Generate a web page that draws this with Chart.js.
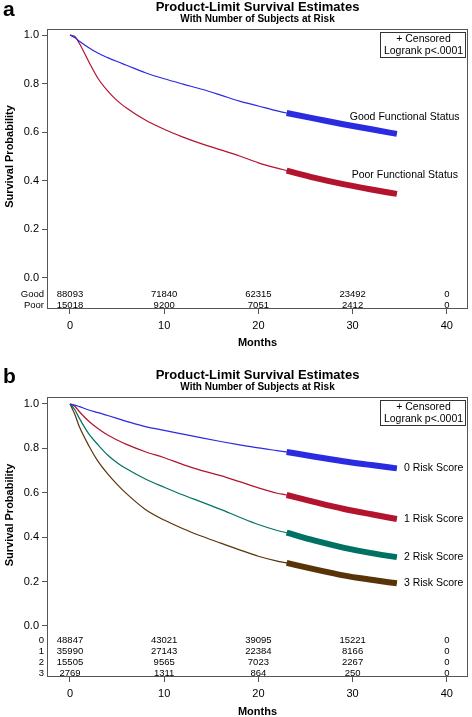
<!DOCTYPE html>
<html>
<head>
<meta charset="utf-8">
<script src="https://cdn.jsdelivr.net/npm/chart.js@4.4.1/dist/chart.umd.min.js"></script>
<style>
    html, body { margin: 0; padding: 0; background: #fff; }
    #wrap { position: relative; width: 472px; height: 717px; }
    canvas { position: absolute; left: 0; }
    #chartA { top: 0; }
    #chartB { top: 360px; }
</style>
</head>
<body>
<div id="wrap">
    <canvas id="chartA" width="472" height="360"></canvas>
    <canvas id="chartB" width="472" height="357"></canvas>
</div>
<script>
/* ---- data ---- */
const months      = [0, 0.5, 1, 2, 3, 4, 5, 6, 8, 10, 12, 14, 16, 18, 20, 22, 23, 26, 29, 32, 34.7];
const censorStart = 23;   // dense censoring (thick band) from here on

// panel a
const goodStatus  = [1, 0.99, 0.975, 0.948, 0.925, 0.907, 0.891, 0.876, 0.845, 0.820, 0.798, 0.777, 0.753, 0.728, 0.708, 0.688, 0.679, 0.656, 0.633, 0.612, 0.593];
const poorStatus  = [1, 0.995, 0.965, 0.89, 0.82, 0.77, 0.73, 0.70, 0.65, 0.612, 0.58, 0.552, 0.527, 0.502, 0.474, 0.452, 0.442, 0.412, 0.386, 0.364, 0.346];

// panel b
const score0 = [1, 0.995, 0.988, 0.973, 0.961, 0.948, 0.935, 0.922, 0.898, 0.881, 0.864, 0.847, 0.831, 0.816, 0.802, 0.790, 0.784, 0.762, 0.742, 0.725, 0.710];
const score1 = [1, 0.99, 0.965, 0.922, 0.888, 0.860, 0.838, 0.818, 0.785, 0.758, 0.727, 0.700, 0.677, 0.650, 0.622, 0.598, 0.590, 0.558, 0.528, 0.503, 0.482];
const score2 = [1, 0.975, 0.935, 0.865, 0.815, 0.77, 0.735, 0.708, 0.662, 0.625, 0.59, 0.558, 0.525, 0.49, 0.457, 0.43, 0.42, 0.384, 0.353, 0.328, 0.31];
const score3 = [1, 0.955, 0.897, 0.812, 0.74, 0.685, 0.638, 0.596, 0.525, 0.477, 0.438, 0.404, 0.373, 0.343, 0.314, 0.292, 0.284, 0.255, 0.228, 0.208, 0.192];

// number at risk
const riskMonths = [0, 10, 20, 30, 40];
const riskGood   = [88093, 71840, 62315, 23492, 0];
const riskPoor   = [15018, 9200, 7051, 2412, 0];
const risk0      = [48847, 43021, 39095, 15221, 0];
const risk1      = [35990, 27143, 22384, 8166, 0];
const risk2      = [15505, 9565, 7023, 2267, 0];
const risk3      = [2769, 1311, 864, 250, 0];

const xTicks = [0, 10, 20, 30, 40];
const yTicks = [0, 0.2, 0.4, 0.6, 0.8, 1.0];

const FONT = '"Liberation Sans", Arial, Helvetica, sans-serif';

/* ---- helpers ---- */
function toPoints(vals) {
    return months.map((m, i) => ({ x: m, y: vals[i] }));
}

function curveSets(label, vals, color) {
    const pts = toPoints(vals);
    return [
        { label: label, data: pts, borderColor: color, borderWidth: 1.2,
          pointRadius: 0, cubicInterpolationMode: 'monotone', fill: false },
        { label: label + ' censored', data: pts.filter(p => p.x >= censorStart),
          borderColor: color, borderWidth: 6, borderCapStyle: 'butt',
          pointRadius: 0, cubicInterpolationMode: 'monotone', fill: false }
    ];
}

// frame, titles, legend box, at-risk table, curve labels
const kmDecor = {
    id: 'kmDecor',
    afterDraw(chart, args, o) {
        const { ctx, chartArea: a, scales: { x, y } } = chart;
        const cx = (a.left + a.right) / 2;
        ctx.save();

        ctx.strokeStyle = '#555';
        ctx.lineWidth = 1;
        ctx.strokeRect(a.left + 0.5, a.top + 0.5, a.right - a.left - 1, a.bottom - a.top - 1);

        ctx.fillStyle = '#000';
        ctx.font = 'bold 21px ' + FONT;
        ctx.textAlign = 'left';
        ctx.textBaseline = 'alphabetic';
        ctx.fillText(o.letter, 3, o.letterY);

        ctx.textAlign = 'center';
        ctx.textBaseline = 'middle';
        ctx.font = 'bold 13px ' + FONT;
        ctx.fillText('Product-Limit Survival Estimates', cx, o.titleY);
        ctx.font = 'bold 10px ' + FONT;
        ctx.fillText('With Number of Subjects at Risk', cx, o.titleY + 12);

        // legend box
        const bw = 85, bh = 25, bx = a.right - 3 - bw, by = a.top + 3;
        ctx.fillStyle = '#fff';
        ctx.fillRect(bx, by, bw, bh);
        ctx.strokeStyle = '#333';
        ctx.strokeRect(bx + 0.5, by + 0.5, bw, bh);
        ctx.fillStyle = '#000';
        ctx.font = '10.5px ' + FONT;
        ctx.fillText('+ Censored', bx + bw / 2 + 1, by + 7);
        ctx.fillText('Logrank p<.0001', bx + bw / 2 + 1, by + 19);

        // number at risk
        const n = o.risk.length;
        ctx.font = '9.5px ' + FONT;
        o.risk.forEach((row, i) => {
            const ry = a.bottom - 4 - 11 * (n - 1 - i);
            ctx.textAlign = 'right';
            ctx.fillText(row.name, a.left - 3, ry);
            ctx.textAlign = 'center';
            row.values.forEach((v, j) => ctx.fillText(String(v), x.getPixelForValue(riskMonths[j]), ry));
        });

        // curve labels
        ctx.font = '10.5px ' + FONT;
        ctx.textAlign = 'left';
        o.labels.forEach(l => ctx.fillText(l.text, x.getPixelForValue(l.x) + (l.dx || 0), y.getPixelForValue(l.y)));

        // axis titles
        ctx.textAlign = 'center';
        ctx.font = 'bold 11px ' + FONT;
        ctx.fillText('Months', cx, a.bottom + o.monthsDy);
        ctx.translate(10, (y.getPixelForValue(0) + y.getPixelForValue(1)) / 2);
        ctx.rotate(-Math.PI / 2);
        ctx.fillText('Survival Probability', 0, 0);

        ctx.restore();
    }
};

function makeKM(canvasId, cfg) {
    return new Chart(document.getElementById(canvasId).getContext('2d'), {
        type: 'line',
        data: { datasets: cfg.datasets },
        plugins: [kmDecor],
        options: {
            responsive: false,
            animation: false,
            events: [],
            layout: { padding: { top: cfg.top, right: 4, left: 0, bottom: 0 } },
            plugins: {
                legend: { display: false },
                tooltip: { enabled: false },
                kmDecor: cfg.decor
            },
            scales: {
                x: {
                    type: 'linear', min: -2.44, max: 42.25,
                    afterBuildTicks: s => { s.ticks = xTicks.map(v => ({ value: v })); },
                    afterFit: s => { s.height = cfg.xAxisH; },
                    grid: { drawOnChartArea: false, drawTicks: true, tickLength: 5, color: '#555' },
                    border: { display: false },
                    ticks: { color: '#000', font: { family: FONT, size: 11 }, padding: 5, maxRotation: 0 }
                },
                y: {
                    type: 'linear', min: cfg.yMin, max: cfg.yMax,
                    afterBuildTicks: s => { s.ticks = yTicks.map(v => ({ value: v })); },
                    afterFit: s => { s.width = 47; },
                    grid: { drawOnChartArea: false, drawTicks: true, tickLength: 5, color: '#555' },
                    border: { display: false },
                    ticks: { color: '#000', font: { family: FONT, size: 11 }, padding: 3,
                             callback: v => Number(v).toFixed(1) }
                }
            }
        }
    });
}

const last = arr => arr[arr.length - 1];

makeKM('chartA', {
    top: 29, xAxisH: 51, yMin: -0.128, yMax: 1.025,
    datasets: [
        ...curveSets('Good Functional Status', goodStatus, '#2b2be0'),
        ...curveSets('Poor Functional Status', poorStatus, '#b3142e')
    ],
    decor: {
        letter: 'a', letterY: 16, titleY: 7, monthsDy: 34,
        risk: [ { name: 'Good', values: riskGood }, { name: 'Poor', values: riskPoor } ],
        labels: [
            { text: 'Good Functional Status', x: 29.7, y: 0.663 },
            { text: 'Poor Functional Status', x: 29.9, y: 0.424 }
        ]
    }
});

makeKM('chartB', {
    top: 37, xAxisH: 40, yMin: -0.23, yMax: 1.0315,
    datasets: [
        ...curveSets('0 Risk Score', score0, '#2b2be0'),
        ...curveSets('1 Risk Score', score1, '#b3142e'),
        ...curveSets('2 Risk Score', score2, '#007264'),
        ...curveSets('3 Risk Score', score3, '#5a3409')
    ],
    decor: {
        letter: 'b', letterY: 23, titleY: 15, monthsDy: 35,
        risk: [
            { name: '0', values: risk0 }, { name: '1', values: risk1 },
            { name: '2', values: risk2 }, { name: '3', values: risk3 }
        ],
        labels: [
            { text: '0 Risk Score', x: last(months), y: last(score0), dx: 7 },
            { text: '1 Risk Score', x: last(months), y: last(score1), dx: 7 },
            { text: '2 Risk Score', x: last(months), y: last(score2), dx: 7 },
            { text: '3 Risk Score', x: last(months), y: last(score3), dx: 7 }
        ]
    }
});
</script>
</body>
</html>
